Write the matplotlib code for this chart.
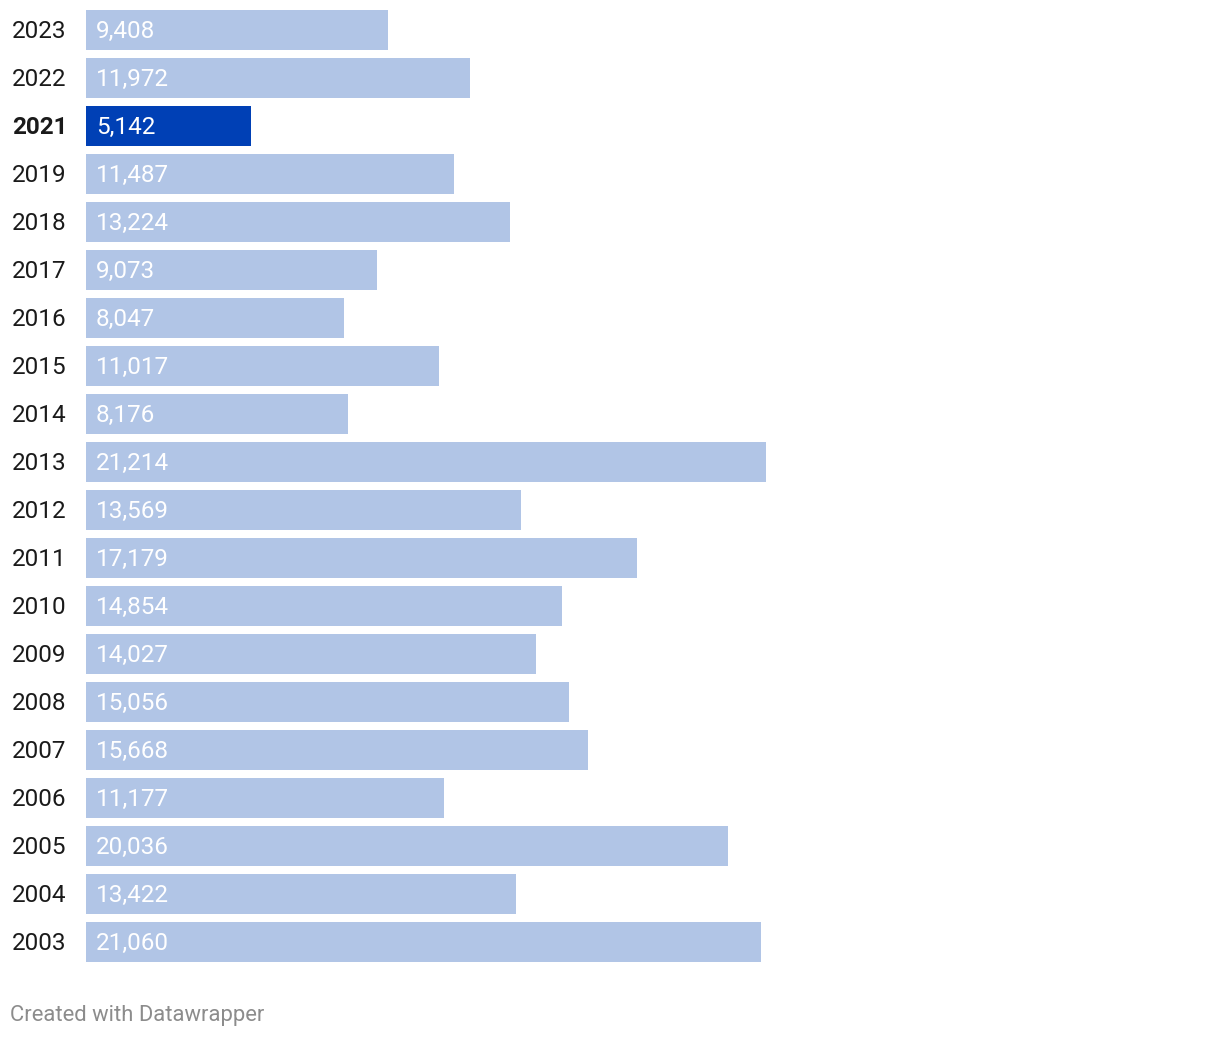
import matplotlib
matplotlib.use("Agg")
import matplotlib.pyplot as plt
from matplotlib.transforms import blended_transform_factory

years = ["2023", "2022", "2021", "2019", "2018", "2017", "2016", "2015", "2014", "2013",
         "2012", "2011", "2010", "2009", "2008", "2007", "2006", "2005", "2004", "2003"]
values = [9408, 11972, 5142, 11487, 13224, 9073, 8047, 11017, 8176, 21214,
          13569, 17179, 14854, 14027, 15056, 15668, 11177, 20036, 13422, 21060]
highlight = "2021"

LIGHT = "#b1c5e6"
DARK = "#0040b5"

plt.rcParams['font.family'] = ['Roboto', 'DejaVu Sans']

W, H = 1220, 1038
fig = plt.figure(figsize=(W / 100, H / 100), dpi=100)

ax_left, ax_right = 86, 1200
ax_top, ax_bottom = 6, 966
ax = fig.add_axes([ax_left / W, (H - ax_bottom) / H, (ax_right - ax_left) / W, (ax_bottom - ax_top) / H])
px_per_unit = 680 / 21214
ax.set_xlim(0, (ax_right - ax_left) / px_per_unit)
n = len(years)
ax.set_ylim(n - 0.5, -0.5)
ax.axis("off")

trans = blended_transform_factory(fig.transFigure, ax.transData)
for i, (y, v) in enumerate(zip(years, values)):
    hl = y == highlight
    ax.barh(i, v, height=40 / 48, color=DARK if hl else LIGHT, linewidth=0)
    ax.text(10 / px_per_unit, i + 0.03, f"{v:,}", color="white", fontsize=17.5,
            va="center", ha="left")
    ax.text(12 / W, i + 0.03, y, transform=trans, color="#1a1a1a", fontsize=17.5,
            va="center", ha="left", fontweight="bold" if hl else "normal")

fig.text(10 / W, 1 - 1015 / H, "Created with Datawrapper", color="#8c8c8c",
         fontsize=15.8, va="center", ha="left")

fig.savefig("out.png", dpi=100, facecolor="white")
